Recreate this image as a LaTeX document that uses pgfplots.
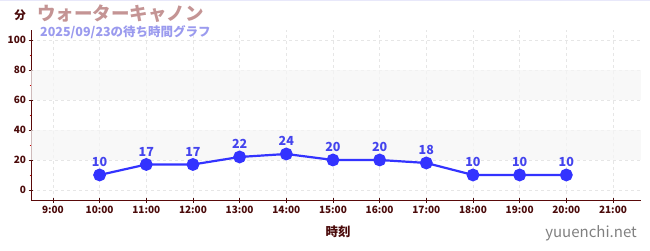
\documentclass[border=0pt]{standalone}
\usepackage{pgfplots}
\pgfplotsset{compat=1.18}
\usepackage{fontspec}
\setmainfont{Noto Sans CJK JP}
\definecolor{axred}{HTML}{5A0A0A}
\definecolor{ticktxt}{HTML}{4A0A0A}
\definecolor{lineblue}{HTML}{3333FF}
\definecolor{lblblue}{HTML}{4444EE}
\definecolor{titlec}{HTML}{C49494}
\definecolor{subc}{HTML}{9A9AEE}
\definecolor{gridc}{HTML}{E6E6E6}
\definecolor{bandc}{HTML}{F5F5F5}
\begin{document}
\begin{tikzpicture}
\useasboundingbox (0pt,0pt) rectangle (650pt,250pt);
\draw[color={rgb,255:red,232;green,232;blue,250}] (0pt,249.5pt) -- (650pt,249.5pt);
\begin{axis}[
  at={(31pt,50pt)}, anchor=south west,
  scale only axis, width=610pt, height=170pt,
  xmin=8.53, xmax=21.6, ymin=-6.7, ymax=106.7,
  axis x line*=bottom, axis y line*=left,
  axis line style={axred, line width=0.8pt},
  xtick={9,...,21},
  xticklabels={9:00,10:00,11:00,12:00,13:00,14:00,15:00,16:00,17:00,18:00,19:00,20:00,21:00},
  ytick={0,20,...,100},
  minor ytick={10,30,...,90},
  grid=major,
  major grid style={gridc, dashed, line width=0.6pt},
  tick style={ticktxt, line width=0.7pt},
  minor tick style={red!80!black, line width=0.6pt},
  major tick length=5pt, minor tick length=3pt,
  tick align=center,
  ticklabel style={font=\fontsize{10}{11}\selectfont\bfseries, text=ticktxt},
  yticklabel style={xshift=1pt},
  /pgf/number format/assume math mode=true,
  clip=false,
]
\fill[bandc, opacity=0.75] (axis cs:8.53,20) rectangle (axis cs:21.6,40);
\fill[bandc, opacity=0.75] (axis cs:8.53,60) rectangle (axis cs:21.6,80);
\addplot[lineblue, line width=2.2pt, mark=*, mark size=5.3pt,
  mark options={fill=lineblue, draw=none},
  nodes near coords,
  every node near coord/.append style={font=\fontsize{12.5}{13}\selectfont\bfseries, text=lblblue, yshift=4pt}]
coordinates {(10,10) (11,17) (12,17) (13,22) (14,24) (15,20) (16,20) (17,18) (18,10) (19,10) (20,10)};
\end{axis}
\node[anchor=center, text=ticktxt, font=\fontsize{11.5}{12}\selectfont\bfseries] at (20pt,235pt) {分};
\node[anchor=west, text=titlec, font=\fontsize{18.5}{20}\selectfont\bfseries, inner sep=0pt] at (37pt,236pt) {ウォーターキャノン};
\node[anchor=west, text=subc, font=\fontsize{12.5}{13}\selectfont\bfseries, inner sep=0pt] at (40pt,218pt) {2025/09/23の待ち時間グラフ};
\node[anchor=center, text=ticktxt, font=\fontsize{12.5}{13}\selectfont\bfseries] at (338pt,18pt) {時刻};
\node[anchor=east, text=gray, font=\fontsize{15}{16}\selectfont, inner sep=0pt] at (637pt,17pt) {yuuenchi.net};
\end{tikzpicture}
\end{document}
